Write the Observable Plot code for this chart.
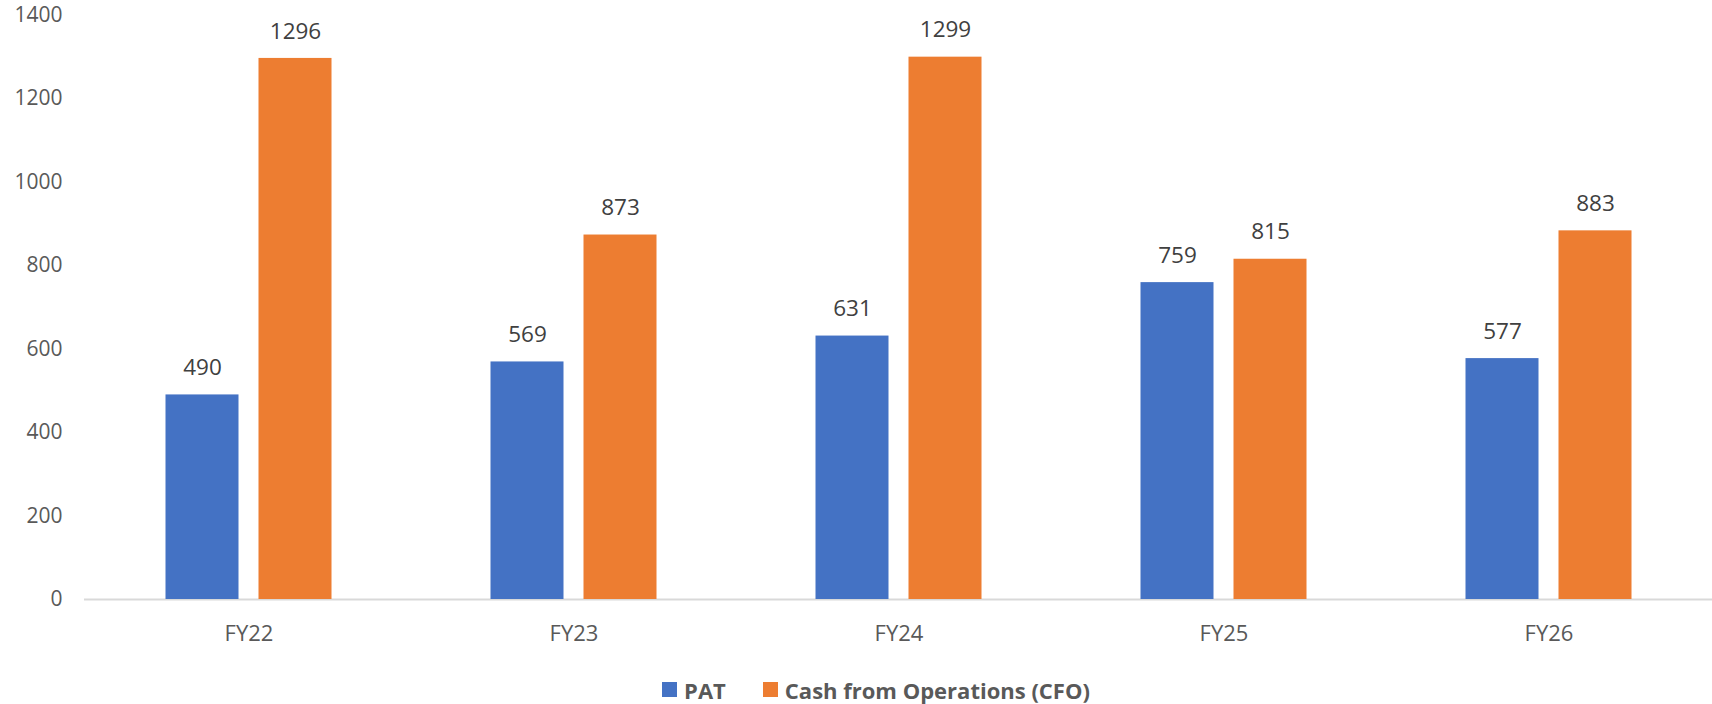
<!DOCTYPE html>
<html>
<head>
<meta charset="utf-8">
<script src="https://cdn.jsdelivr.net/npm/d3@7"></script>
<script src="https://cdn.jsdelivr.net/npm/@observablehq/plot@0.6"></script>
<style>
  html, body { margin: 0; padding: 0; background: #fff; }
  body { width: 1712px; height: 704px; overflow: hidden; font-family: "Open Sans", sans-serif; }
  #chart svg { display: block; }
  #legend { display: flex; justify-content: center; align-items: center; height: 49px; padding-left: 40px; box-sizing: border-box; width: 1712px; font-weight: bold; font-size: 22px; color: #595959; }
  .item { display: flex; align-items: center; }
  .sw { width: 15px; height: 15px; margin-right: 7px; }
  .item + .item { margin-left: 37px; }
</style>
</head>
<body>
<div id="chart"></div>
<div id="legend"></div>
<script>
const years = ["FY22", "FY23", "FY24", "FY25", "FY26"];
const series = ["PAT", "Cash from Operations (CFO)"];
const patValues = [490, 569, 631, 759, 577];
const cfoValues = [1296, 873, 1299, 815, 883];
const colors = ["#4472C4", "#ED7D31"];
const yTicks = [0, 200, 400, 600, 800, 1000, 1200, 1400];

const pat = years.map((y, i) => ({year: y, series: series[0], value: patValues[i]}));
const cfo = years.map((y, i) => ({year: y, series: series[1], value: cfoValues[i]}));

const off = 46.5;
const chart = Plot.plot({
  width: 1712,
  height: 665,
  marginLeft: 84,
  marginRight: 0,
  marginTop: 14.5,
  marginBottom: 66,
  style: {fontFamily: "Open Sans, sans-serif", fontSize: "21px", color: "#595959", background: "#fff"},
  x: {domain: years, paddingInner: 0.776, paddingOuter: 0.388, label: null, tickSize: 0, tickPadding: 26},
  y: {domain: [0, 1400], ticks: yTicks, tickFormat: d => String(d), tickSize: 0, tickPadding: 22, label: null, grid: false},
  color: {domain: series, range: colors},
  marks: [
    Plot.ruleY([0], {stroke: "#d9d9d9", strokeWidth: 2}),
    Plot.axisX({tickSize: 0, tickPadding: 26, fontSize: 22, label: null}),
    Plot.barY(pat, {x: "year", y: "value", fill: "series", dx: -off}),
    Plot.barY(cfo, {x: "year", y: "value", fill: "series", dx: off}),
    Plot.text(pat, {x: "year", y: "value", text: d => String(d.value), dx: -off, dy: -27, fill: "#404040", fontSize: 22.5}),
    Plot.text(cfo, {x: "year", y: "value", text: d => String(d.value), dx: off, dy: -27, fill: "#404040", fontSize: 22.5})
  ]
});
document.getElementById("chart").appendChild(chart);

const legend = document.getElementById("legend");
series.forEach((s, i) => {
  const item = document.createElement("div");
  item.className = "item";
  const sw = document.createElement("div");
  sw.className = "sw";
  sw.style.background = colors[i];
  const t = document.createElement("span");
  t.textContent = s;
  item.appendChild(sw);
  item.appendChild(t);
  legend.appendChild(item);
});
</script>
</body>
</html>
